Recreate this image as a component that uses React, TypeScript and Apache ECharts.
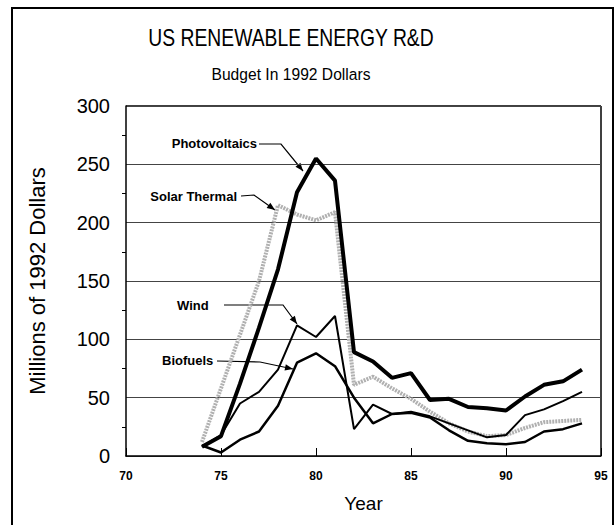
import React, { useEffect, useRef } from "react";
import * as echarts from "echarts";

const years = [74, 75, 76, 77, 78, 79, 80, 81, 82, 83, 84, 85, 86, 87, 88, 89, 90, 91, 92, 93, 94];
const photovoltaics = [8, 17, 62, 110, 160, 226, 255, 236, 89, 81, 67, 71, 48, 49, 42, 41, 39, 51, 61, 64, 74];
const solarThermal = [12, 58, 104, 150, 215, 207, 202, 209, 61, 68, 58, 49, 38, 28, 21, 17, 18, 24, 29, 30, 31];
const wind = [8, 18, 45, 55, 74, 112, 102, 120, 23, 44, 36, 38, 34, 28, 22, 16, 18, 35, 40, 47, 55];
const biofuels = [9, 3, 14, 21, 43, 80, 88, 77, 50, 28, 36, 37, 33, 22, 13, 11, 10, 12, 21, 23, 28];
const yTicks = [0, 50, 100, 150, 200, 250, 300];
const xTicks = [70, 75, 80, 85, 90, 95];

const FONT = "'Liberation Sans', Arial, sans-serif";

const pairs = (vals: number[]) => years.map((y, i) => [y, vals[i]]);

function arrowHead(px: number, py: number, tx: number, ty: number) {
  const dx = tx - px, dy = ty - py;
  const len = Math.sqrt(dx * dx + dy * dy);
  const ux = dx / len, uy = dy / len;
  const nx = -uy, ny = ux;
  const L = 8, W = 3.2;
  return {
    type: "polygon",
    shape: {
      points: [
        [tx, ty],
        [tx - ux * L + nx * W, ty - uy * L + ny * W],
        [tx - ux * L - nx * W, ty - uy * L - ny * W],
      ],
    },
    style: { fill: "#000" },
  };
}

function callout(text: string, tx: number, ty: number, align: string, pts: number[][]) {
  const n = pts.length;
  return [
    {
      type: "text",
      x: tx,
      y: ty,
      style: { text, font: `bold 13px ${FONT}`, fill: "#000", textAlign: align, textVerticalAlign: "middle" },
    },
    { type: "polyline", shape: { points: pts }, style: { stroke: "#000", lineWidth: 1.2, fill: null } },
    arrowHead(pts[n - 2][0], pts[n - 2][1], pts[n - 1][0], pts[n - 1][1]),
  ];
}

export default function App() {
  const ref = useRef<HTMLDivElement>(null);
  useEffect(() => {
    if (!ref.current) return;
    const chart = echarts.init(ref.current, null, { renderer: "svg" });
    const option: any = {
      animation: false,
      backgroundColor: "#fff",
      grid: { left: 126, right: 15, top: 106, bottom: 69, containLabel: false },
      xAxis: {
        type: "value",
        min: xTicks[0],
        max: xTicks[xTicks.length - 1],
        interval: 5,
        name: "Year",
        nameLocation: "middle",
        nameGap: 38,
        nameTextStyle: { fontFamily: FONT, fontSize: 19, color: "#000" },
        axisLine: { show: true, lineStyle: { color: "#000", width: 1.5 } },
        axisTick: { show: true, inside: true, length: 8, lineStyle: { color: "#000" } },
        axisLabel: { fontFamily: FONT, fontSize: 12, fontWeight: "bold", color: "#000", margin: 14 },
        splitLine: { show: false },
      },
      yAxis: {
        type: "value",
        min: yTicks[0],
        max: yTicks[yTicks.length - 1],
        interval: 50,
        name: "Millions of 1992 Dollars",
        nameLocation: "middle",
        nameGap: 78,
        nameRotate: 90,
        nameTextStyle: { fontFamily: FONT, fontSize: 22, color: "#000" },
        axisLine: { show: true, lineStyle: { color: "#000", width: 1.5 } },
        axisTick: { show: false },
        minorTick: { show: true, splitNumber: 2, length: 4, lineStyle: { color: "#000" } },
        axisLabel: { fontFamily: FONT, fontSize: 20, color: "#000", margin: 16 },
        splitLine: { show: true, lineStyle: { color: "#444", width: 1 } },
      },
      series: [
        {
          name: "Solar Thermal",
          type: "line",
          data: pairs(solarThermal),
          symbol: "none",
          lineStyle: { color: "#b0b0b0", width: 4, type: [2, 1] },
          z: 2,
        },
        {
          name: "Biofuels",
          type: "line",
          data: pairs(biofuels),
          symbol: "none",
          lineStyle: { color: "#000", width: 2.5 },
          z: 3,
        },
        {
          name: "Wind",
          type: "line",
          data: pairs(wind),
          symbol: "none",
          lineStyle: { color: "#000", width: 2 },
          z: 3,
        },
        {
          name: "Photovoltaics",
          type: "line",
          data: pairs(photovoltaics),
          symbol: "none",
          lineStyle: { color: "#000", width: 4 },
          z: 4,
        },
      ],
      graphic: [
        {
          type: "text",
          x: 291,
          y: 38,
          scaleX: 0.84,
          style: {
            text: "US RENEWABLE ENERGY R&D",
            font: `23px ${FONT}`,
            fill: "#000",
            textAlign: "center",
            textVerticalAlign: "middle",
          },
        },
        {
          type: "text",
          x: 291,
          y: 74,
          scaleX: 0.92,
          style: {
            text: "Budget In 1992 Dollars",
            font: `17px ${FONT}`,
            fill: "#000",
            textAlign: "center",
            textVerticalAlign: "middle",
          },
        },
        {
          type: "line",
          shape: { x1: 126, y1: 106, x2: 601, y2: 106 },
          style: { stroke: "#000", lineWidth: 1.5 },
        },
        {
          type: "line",
          shape: { x1: 601, y1: 106, x2: 601, y2: 456 },
          style: { stroke: "#000", lineWidth: 1.5 },
        },
        {
          type: "rect",
          shape: { x: 12, y: 8, width: 601, height: 530 },
          style: { stroke: "#000", lineWidth: 2, fill: null },
          silent: true,
        },
        ...callout("Photovoltaics", 257, 143, "right", [[259, 144], [281, 144], [303, 171]]),
        ...callout("Solar Thermal", 237, 196, "right", [[241, 196], [254, 195], [275, 210]]),
        ...callout("Wind", 177, 305, "left", [[224, 305], [283, 305], [297, 324]]),
        ...callout("Biofuels", 162, 360, "left", [[217, 361], [260, 362], [293, 369]]),
      ],
    };
    chart.setOption(option);
    return () => chart.dispose();
  }, []);
  return (
    <div
      ref={ref}
      style={{ position: "fixed", left: 0, top: 0, width: 616, height: 525, background: "#fff" }}
    />
  );
}
